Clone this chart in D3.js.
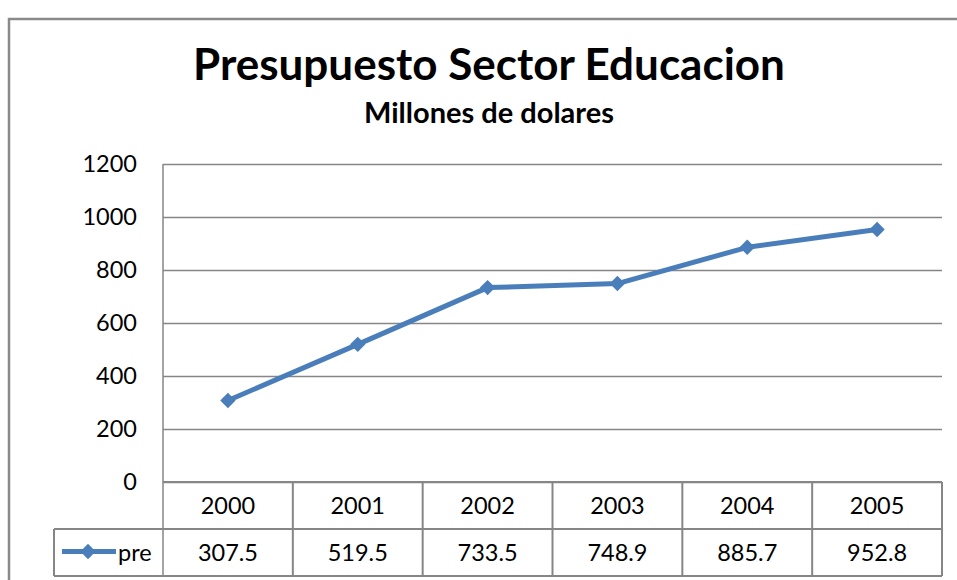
<!DOCTYPE html>
<html>
<head>
<meta charset="utf-8">
<script src="https://cdn.jsdelivr.net/npm/d3@7"></script>
<style>
  body { margin: 0; background: #fff; }
  svg { display: block; font-family: Lato, "Open Sans", sans-serif; }
</style>
</head>
<body>
<div id="chart"></div>
<script>
// datos
const years = ["2000", "2001", "2002", "2003", "2004", "2005"];
const values = [307.5, 519.5, 733.5, 748.9, 885.7, 952.8];
const seriesName = "pre";
const yTicks = [0, 200, 400, 600, 800, 1000, 1200];

const width = 957, height = 580;
const plot = { left: 163, right: 942, top: 164, bottom: 482 };
const rowH = 47;
const legendLeft = 54;
const blue = "#4A7EBB";
const grid = "#868686";
const fs = 23.5;

const svg = d3.select("#chart").append("svg")
  .attr("width", width)
  .attr("height", height);

// marco exterior
svg.append("rect")
  .attr("x", 9).attr("y", 19)
  .attr("width", width + 10).attr("height", height + 10)
  .attr("fill", "none").attr("stroke", "#8a8a8a").attr("stroke-width", 2.5);

// titulos
svg.append("text")
  .attr("x", 489).attr("y", 80)
  .attr("text-anchor", "middle")
  .attr("font-size", 44).attr("font-weight", "bold")
  .text("Presupuesto Sector Educacion");
svg.append("text")
  .attr("x", 489).attr("y", 123)
  .attr("text-anchor", "middle")
  .attr("font-size", 29).attr("font-weight", "bold")
  .text("Millones de dolares");

const x = d3.scaleBand().domain(years).range([plot.left, plot.right]);
const y = d3.scaleLinear().domain([0, 1200]).range([plot.bottom, plot.top]);

// lineas de cuadricula
const yGrid = svg.append("g")
  .attr("transform", `translate(${plot.left},0)`)
  .call(d3.axisLeft(y).tickValues(yTicks).tickSize(-(plot.right - plot.left)).tickFormat(""));
yGrid.select(".domain").remove();
yGrid.selectAll("line").attr("stroke", grid).attr("stroke-width", 1.5);

// eje y
const yAxis = svg.append("g")
  .attr("transform", `translate(${plot.left},0)`)
  .call(d3.axisLeft(y).tickValues(yTicks).tickSize(0).tickPadding(26).tickFormat(d3.format("d")));
yAxis.select(".domain").remove();
yAxis.selectAll("text")
  .attr("font-family", "Lato, sans-serif")
  .attr("font-size", fs).attr("fill", "#000");

// borde izquierdo del area de trazado
svg.append("line")
  .attr("x1", plot.left).attr("x2", plot.left)
  .attr("y1", plot.top).attr("y2", plot.bottom + 2 * rowH)
  .attr("stroke", grid).attr("stroke-width", 1.5);

// tabla de datos
const table = svg.append("g");
const rowTop1 = plot.bottom, rowTop2 = plot.bottom + rowH, rowBot = plot.bottom + 2 * rowH;
table.append("line").attr("x1", plot.left).attr("x2", plot.right).attr("y1", rowTop1).attr("y2", rowTop1);
table.append("line").attr("x1", legendLeft).attr("x2", plot.right).attr("y1", rowTop2).attr("y2", rowTop2);
table.append("line").attr("x1", legendLeft).attr("x2", plot.right).attr("y1", rowBot).attr("y2", rowBot);
table.append("line").attr("x1", legendLeft).attr("x2", legendLeft).attr("y1", rowTop2).attr("y2", rowBot);
years.forEach(yr => {
  table.append("line")
    .attr("x1", x(yr) + x.bandwidth()).attr("x2", x(yr) + x.bandwidth())
    .attr("y1", rowTop1).attr("y2", rowBot);
});
table.selectAll("line").attr("stroke", grid).attr("stroke-width", 2);

table.selectAll(".yr").data(years).enter().append("text")
  .attr("x", d => x(d) + x.bandwidth() / 2)
  .attr("y", rowTop1 + rowH / 2)
  .attr("dy", "0.36em")
  .attr("text-anchor", "middle")
  .attr("font-size", fs)
  .text(d => d);
table.selectAll(".val").data(values).enter().append("text")
  .attr("x", (d, i) => x(years[i]) + x.bandwidth() / 2)
  .attr("y", rowTop2 + rowH / 2)
  .attr("dy", "0.36em")
  .attr("text-anchor", "middle")
  .attr("font-size", fs)
  .text(d => d.toFixed(1));

// leyenda en la tabla
const legY = rowTop2 + rowH / 2 - 1;
const diamond = d3.symbol().type(d3.symbolDiamond2).size(150);
table.append("line")
  .attr("x1", 62).attr("x2", 116).attr("y1", legY).attr("y2", legY)
  .attr("stroke", blue).attr("stroke-width", 5);
table.append("path")
  .attr("d", diamond)
  .attr("transform", `translate(88,${legY})`)
  .attr("fill", blue);
table.append("text")
  .attr("x", 118).attr("y", rowTop2 + rowH / 2).attr("dy", "0.36em")
  .attr("font-size", fs)
  .text(seriesName);

// serie
const line = d3.line()
  .x((d, i) => x(years[i]) + x.bandwidth() / 2)
  .y(d => y(d));
svg.append("path")
  .datum(values)
  .attr("d", line)
  .attr("fill", "none")
  .attr("stroke", blue)
  .attr("stroke-width", 5)
  .attr("stroke-linejoin", "round");
svg.selectAll(".pt").data(values).enter().append("path")
  .attr("d", diamond)
  .attr("transform", (d, i) => `translate(${x(years[i]) + x.bandwidth() / 2},${y(d)})`)
  .attr("fill", blue);
</script>
</body>
</html>
